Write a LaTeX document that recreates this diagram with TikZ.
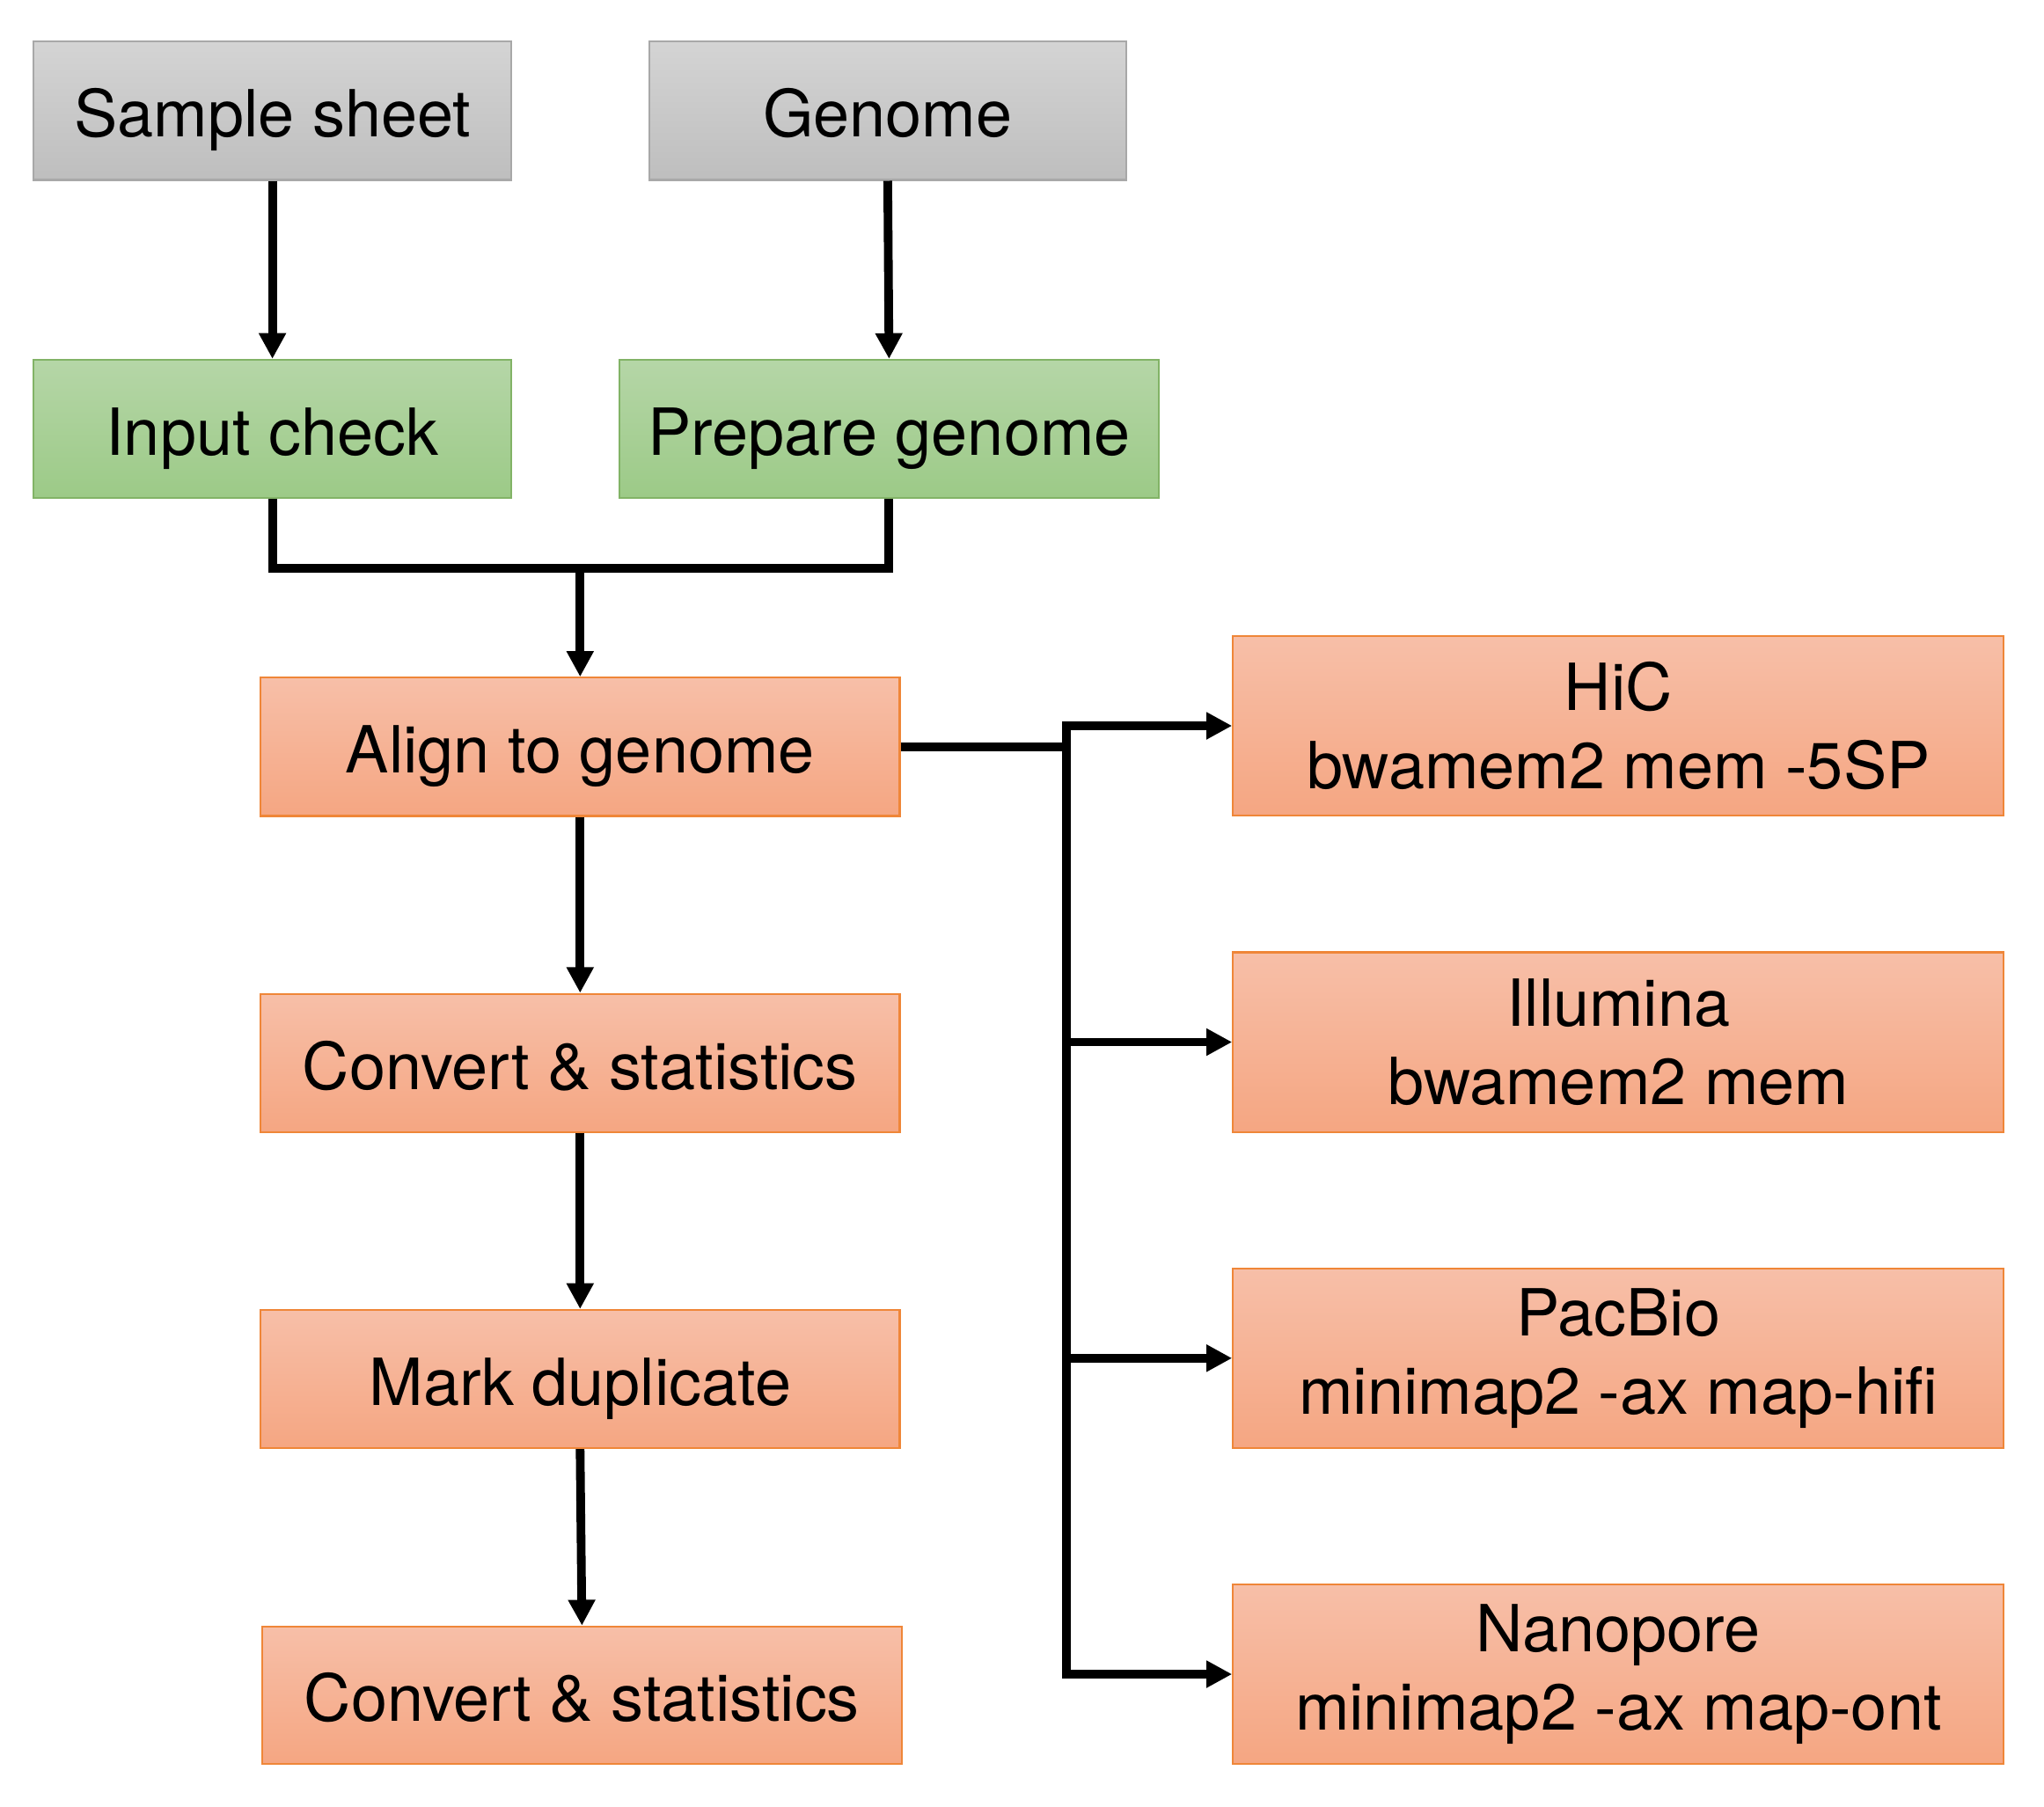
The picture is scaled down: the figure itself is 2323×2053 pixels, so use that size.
\documentclass[tikz,border=0pt]{standalone}
\usepackage{fontspec}
\setmainfont{TeX Gyre Heros}
\usetikzlibrary{arrows.meta}
\definecolor{grayT}{HTML}{D4D4D4}
\definecolor{grayB}{HTML}{BEBEBE}
\definecolor{grayD}{HTML}{A8A8A8}
\definecolor{greenT}{HTML}{B5D6A7}
\definecolor{greenB}{HTML}{9CCA87}
\definecolor{greenD}{HTML}{82B366}
\definecolor{orT}{HTML}{F7BFA8}
\definecolor{orB}{HTML}{F5A682}
\definecolor{orD}{HTML}{EF8638}
\begin{document}
\begin{tikzpicture}[x=0.01cm,y=-0.01cm,
  base/.style={rectangle, inner sep=0pt, line width=0.6pt, align=center,
    font=\fontsize{21pt}{25.3pt}\selectfont, text=black},
  one/.style={text height=17pt, text depth=0pt},
  graybox/.style={base, one, draw=grayD, top color=grayT, bottom color=grayB},
  greenbox/.style={base, one, draw=greenD, top color=greenT, bottom color=greenB},
  orbox/.style={base, draw=orD, top color=orT, bottom color=orB},
  conn/.style={line width=2.8pt, black},
  arr/.style={conn, -{Triangle[length=8.3pt,width=8.3pt]}}]
\useasboundingbox (0,0) rectangle (2323,2053);
\fill[white] (0,0) rectangle (2323,2053);

\node[graybox, minimum width=5.422cm, minimum height=1.57cm] (ss) at (309.6,125.9) {Sample sheet};
\node[graybox, minimum width=5.422cm, minimum height=1.57cm] (gen) at (1008.9,125.9) {Genome};
\node[greenbox, minimum width=5.422cm, minimum height=1.57cm] (ic) at (309.6,487.5) {Input check};
\node[greenbox, minimum width=6.133cm, minimum height=1.57cm] (pg) at (1010.4,487.5) {Prepare genome};
\node[orbox, one, minimum width=7.26cm, minimum height=1.57cm] (al) at (659.3,848.9) {Align to genome};
\node[orbox, one, minimum width=7.26cm, minimum height=1.57cm] (cs1) at (659.3,1208.2) {Convert \& statistics};
\node[orbox, one, minimum width=7.26cm, minimum height=1.57cm] (md) at (659.3,1567.5) {Mark duplicate};
\node[orbox, one, minimum width=7.27cm, minimum height=1.56cm] (cs2) at (661.4,1926.8) {Convert \& statistics};

\node[orbox, minimum width=8.755cm, minimum height=2.04cm] (hic) at (1839.3,825) {HiC\\bwamem2 mem -5SP};
\node[orbox, minimum width=8.755cm, minimum height=2.04cm] (ill) at (1839.3,1184.5) {Illumina\\bwamem2 mem};
\node[orbox, minimum width=8.755cm, minimum height=2.04cm] (pb) at (1839.3,1543.8) {PacBio\\minimap2 -ax map-hifi};
\node[orbox, minimum width=8.755cm, minimum height=2.04cm] (np) at (1839.3,1903) {Nanopore\\minimap2 -ax map-ont};

\coordinate (m) at (659.3,646);
\coordinate (b) at (1212,848.9);

\draw[arr] (ss.south) -- (ic.north);
\draw[arr] (gen.south) -- (pg.north);
\draw[conn] (ic.south) |- (m) -| (pg.south);
\draw[arr] (m) -- (al.north);
\draw[arr] (al.south) -- (cs1.north);
\draw[arr] (cs1.south) -- (md.north);
\draw[arr] (md.south) -- (cs2.north);
\draw[conn] (al.east) -- (b);
\draw[arr] (b) |- (hic.west);
\draw[arr] (b) |- (ill.west);
\draw[arr] (b) |- (pb.west);
\draw[arr] (b) |- (np.west);
\end{tikzpicture}
\end{document}
